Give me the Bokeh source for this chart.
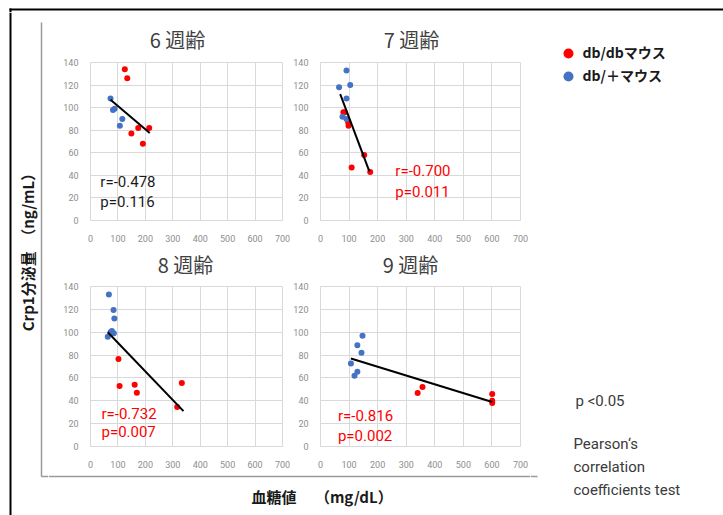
import numpy as np
from bokeh.plotting import figure
from bokeh.layouts import row, column
from bokeh.models import Range1d, FixedTicker
from bokeh.core.properties import value
from bokeh.embed import file_html
from bokeh.resources import INLINE

# ---------------- data ----------------
X_TICKS = [0, 100, 200, 300, 400, 500, 600, 700]
Y_TICKS = [0, 20, 40, 60, 80, 100, 120, 140]
SERIES_NAMES = ["db/dbマウス", "db/＋マウス"]
X_LABEL = "血糖値　 （mg/dL）"
Y_LABEL = "Crp1分泌量　（ng/mL）"
NOTES = ["p <0.05", "Pearson‘s", "correlation", "coefficients test"]

W6_TITLE = "6 週齢"
W6_DB_X = [125, 134, 174, 214, 149, 191]
W6_DB_Y = [134, 126, 82, 82, 77, 68]
W6_HET_X = [73, 82, 88, 116, 107]
W6_HET_Y = [108, 98, 99, 90, 84]
W6_TREND_X = [73, 216]
W6_TREND_Y = [107, 77.5]
W6_STATS = ["r=-0.478", "p=0.116"]

W7_TITLE = "7 週齢"
W7_DB_X = [80, 85, 97, 98, 109, 153, 174]
W7_DB_Y = [96, 96, 87, 84, 47, 58, 43]
W7_HET_X = [65, 91, 104, 91, 77, 91]
W7_HET_Y = [118, 133, 120, 108, 92, 90]
W7_TREND_X = [69, 171]
W7_TREND_Y = [112, 43.5]
W7_STATS = ["r=-0.700", "p=0.011"]

W8_TITLE = "8 週齢"
W8_DB_X = [102, 106, 161, 169, 333, 316]
W8_DB_Y = [76.5, 53, 54, 47, 55.5, 34.5]
W8_HET_X = [67, 84, 87, 78, 85, 63, 73]
W8_HET_Y = [133, 119.5, 112, 101, 99, 96, 100]
W8_TREND_X = [63, 339]
W8_TREND_Y = [100, 31]
W8_STATS = ["r=-0.732", "p=0.007"]

W9_TITLE = "9 週齢"
W9_DB_X = [340, 357, 601, 601, 601]
W9_DB_Y = [46.8, 52, 46, 40, 38]
W9_HET_X = [106.5, 119, 129, 129, 143.5, 147]
W9_HET_Y = [72.7, 62, 65.5, 88.6, 82, 97]
W9_TREND_X = [106.5, 601]
W9_TREND_Y = [77, 39]
W9_STATS = ["r=-0.816", "p=0.002"]

RED = "#ff0000"
BLUE = "#4472c4"
NUM_FONT = "Roboto"
CJK_FONT = "Noto Sans CJK JP"


def panel(db_x, db_y, het_x, het_y, tr_x, tr_y, stats, sx, sy, scolor,
          width, height, mbl, mbr, mbt, mbb):
    p = figure(width=width, height=height, x_range=Range1d(0, 700), y_range=Range1d(0, 140),
               output_backend="svg", toolbar_location=None, title=None,
               min_border_left=mbl, min_border_right=mbr, min_border_top=mbt, min_border_bottom=mbb)
    p.xaxis.ticker = FixedTicker(ticks=X_TICKS)
    p.yaxis.ticker = FixedTicker(ticks=Y_TICKS)
    p.xgrid.ticker = FixedTicker(ticks=X_TICKS)
    p.ygrid.ticker = FixedTicker(ticks=Y_TICKS)
    p.axis.axis_line_color = None
    p.axis.major_tick_line_color = None
    p.axis.minor_tick_line_color = None
    p.axis.major_label_text_font = NUM_FONT
    p.axis.major_label_text_font_size = "9px"
    p.axis.major_label_text_color = "#8e8e8e"
    p.yaxis.major_label_standoff = 6
    p.xaxis.major_label_standoff = 8
    p.grid.grid_line_color = "#d9d9d9"
    p.outline_line_color = "#d9d9d9"
    p.scatter(db_x, db_y, size=6, fill_color=RED, line_color=None)
    p.scatter(het_x, het_y, size=6, fill_color=BLUE, line_color=None)
    p.line(tr_x, tr_y, line_color="black", line_width=2)
    p.text(x=[sx, sx], y=sy, text=stats, text_font=value(NUM_FONT), text_font_size="15px",
           text_color=scolor, text_baseline="middle", text_align="left")
    return p


def strip(x0, y0, w, h):
    p = figure(width=w, height=h, x_range=Range1d(x0, x0 + w), y_range=Range1d(y0 + h, y0),
               output_backend="svg", toolbar_location=None, x_axis_location=None,
               y_axis_location=None, min_border=0, title=None)
    p.grid.visible = False
    p.outline_line_color = None
    return p


def title_strip(y0, h, titles, xs, ys):
    s = strip(48, y0, 482, h)
    s.text(x=xs, y=ys, text=titles, text_font=value(CJK_FONT), text_font_size="20px",
           text_color="#404040", text_align="center", text_baseline="middle")
    return s


# page grid: left strip 0..48, centre 48..530 (col1 48..290, col2 290..530), right 530..723
t1 = title_strip(12, 43, [W6_TITLE, W7_TITLE], [177, 411], [39, 39])
p6 = panel(W6_DB_X, W6_DB_Y, W6_HET_X, W6_HET_Y, W6_TREND_X, W6_TREND_Y,
           W6_STATS, 36, [33.8, 16.1], "#1a1a1a", 242, 190, 42, 8, 7, 25)
p7 = panel(W7_DB_X, W7_DB_Y, W7_HET_X, W7_HET_Y, W7_TREND_X, W7_TREND_Y,
           W7_STATS, 262, [43.5, 25.5], RED, 240, 190, 27, 10, 7, 25)
t2 = title_strip(245, 36, [W8_TITLE, W9_TITLE], [185, 410], [264, 264])
p8 = panel(W8_DB_X, W8_DB_Y, W8_HET_X, W8_HET_Y, W8_TREND_X, W8_TREND_Y,
           W8_STATS, 40, [28.3, 12.5], RED, 242, 189, 42, 8, 5, 21)
p9 = panel(W9_DB_X, W9_DB_Y, W9_HET_X, W9_HET_Y, W9_TREND_X, W9_TREND_Y,
           W9_STATS, 61, [26.6, 9.2], RED, 240, 189, 27, 10, 5, 21)

# top frame strip
top = strip(0, 0, 723, 12)
top.segment(x0=[9], y0=[9], x1=[723], y1=[9], line_color="black", line_width=2)
top.segment(x0=[10], y0=[8], x1=[10], y1=[12], line_color="black", line_width=2)

# left strip
left = strip(0, 12, 48, 503)
left.segment(x0=[10], y0=[12], x1=[10], y1=[515], line_color="black", line_width=2)
left.segment(x0=[41, 41], y0=[22, 476], x1=[41, 48], y1=[476, 476], line_color="#9a9a9a", line_width=1.5)
left.text(x=[27], y=[248], text=[Y_LABEL], angle=np.pi / 2, text_font=value(CJK_FONT),
          text_font_size="15px", text_font_style="bold", text_color="#1a1a1a",
          text_align="center", text_baseline="middle")

# bottom strip
bottom = strip(48, 470, 482, 45)
bottom.segment(x0=[48], y0=[476], x1=[530], y1=[476], line_color="#9a9a9a", line_width=1.5)
bottom.text(x=[251], y=[496], text=[X_LABEL], text_font=value(CJK_FONT), text_font_size="15px",
            text_font_style="bold", text_color="#1a1a1a", text_align="left", text_baseline="middle")

# right strip
right = strip(530, 12, 193, 503)
right.segment(x0=[530], y0=[476], x1=[537], y1=[476], line_color="#9a9a9a", line_width=1.5)
right.scatter(x=[568, 568], y=[53, 76], size=10, fill_color=[RED, BLUE], line_color=None)
right.text(x=[582, 582], y=[51, 74], text=SERIES_NAMES, text_font=value(CJK_FONT),
           text_font_size="14px", text_font_style="bold", text_color="#1a1a1a",
           text_align="left", text_baseline="middle")
right.text(x=[575, 573, 573, 573], y=[400, 443, 466, 489], text=NOTES, text_font=value("Roboto"),
           text_font_size="15px", text_color="#3a3a3a", text_align="left", text_baseline="middle")

centre = column(t1, row(p6, p7), t2, row(p8, p9), bottom)
layout = column(top, row(left, centre, right))

open("out.html", "w").write(file_html(layout, INLINE))
